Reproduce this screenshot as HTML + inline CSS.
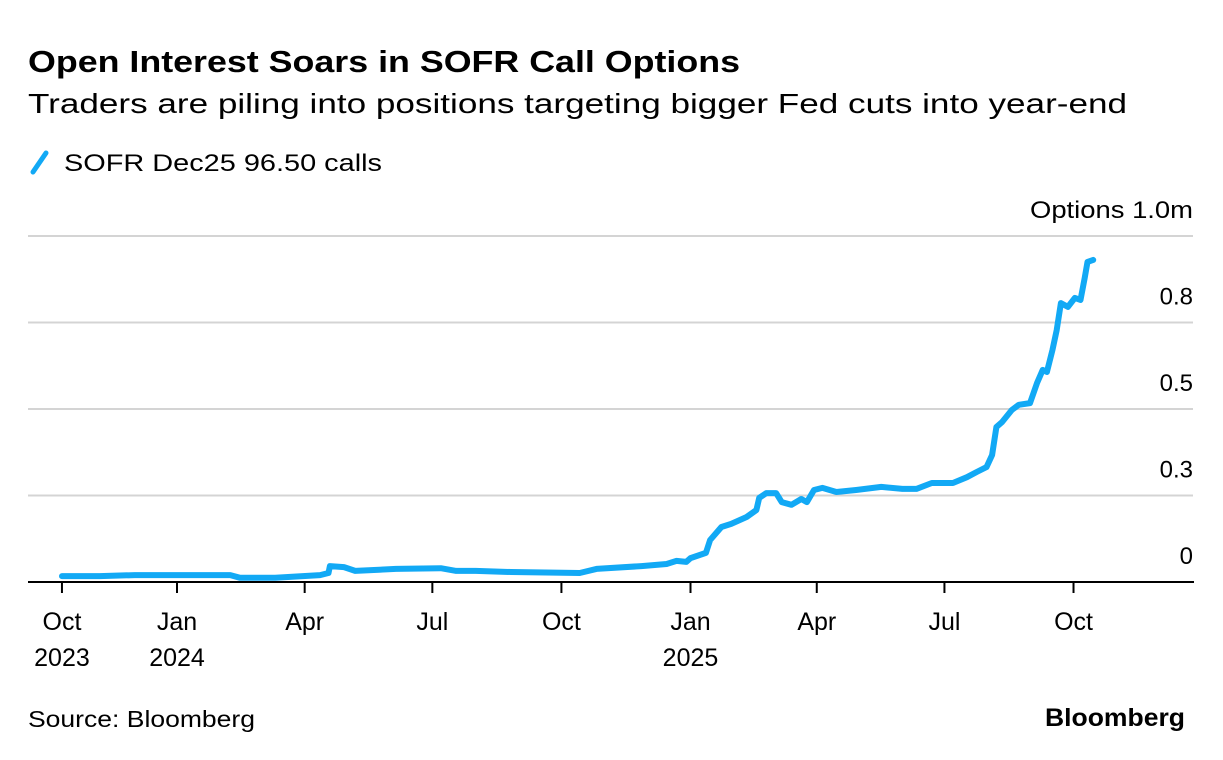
<!DOCTYPE html>
<html><head><meta charset="utf-8"><style>
body{margin:0;background:#fff;font-family:"Liberation Sans",sans-serif;}
</style></head><body>
<svg width="1223" height="760" viewBox="0 0 1223 760" style="display:block">
<text x="28" y="72" font-size="31" font-weight="bold" fill="#000" textLength="712" lengthAdjust="spacingAndGlyphs">Open Interest Soars in SOFR Call Options</text>
<text x="28" y="113" font-size="28" fill="#000" textLength="1099" lengthAdjust="spacingAndGlyphs">Traders are piling into positions targeting bigger Fed cuts into year-end</text>
<g>
<line x1="33" y1="172" x2="46" y2="153" stroke="#12a9f5" stroke-width="5" stroke-linecap="round"/>
<text x="64" y="171" font-size="24" fill="#000" textLength="318" lengthAdjust="spacingAndGlyphs">SOFR Dec25 96.50 calls</text>
</g>
<g id="grid"></g><g id="xax"></g>
<path id="line" fill="none" stroke="#12a9f5" stroke-width="6" stroke-linejoin="round" stroke-linecap="round"/>
<text x="28" y="727" font-size="23" fill="#000" textLength="227" lengthAdjust="spacingAndGlyphs">Source: Bloomberg</text>
<text x="1045" y="726" font-size="25" font-weight="bold" fill="#000" textLength="140" lengthAdjust="spacingAndGlyphs">Bloomberg</text>
</svg>
<script>
const days=[10,37,62,130,137,162,194,200,201,211,219,248,280,291,305,330,379,391,423,441,448,455,458,469,472,480,487,498,505,507,512,519,523,530,537,541,546,552,562,576,594,609,619,630,645,655,662,669,673,676,680,687,692,700,705,709,712,716,719,722,727,732,736,739,741,745];
const values=[.017,.017,.020,.020,.012,.012,.020,.026,.046,.043,.032,.038,.040,.032,.032,.029,.026,.038,.046,.052,.061,.058,.069,.084,.121,.159,.168,.188,.208,.243,.257,.257,.231,.223,.240,.231,.266,.272,.260,.266,.275,.269,.269,.286,.286,.303,.318,.332,.367,.448,.462,.497,.512,.517,.575,.613,.607,.671,.728,.806,.795,.821,.815,.879,.925,.931];
const yTicks=[0,0.25,0.5,0.75,1.0];
const yLabels=["0","0.3","0.5","0.8","Options 1.0m"];
const xTickDays=[10,92,183,274,366,458,548,639,731];
const xLab1=["Oct","Jan","Apr","Jul","Oct","Jan","Apr","Jul","Oct"];
const xLab2=["2023","2024","","","","2025","","",""];
const X=d=>177+(d-92)*1.403, Y=v=>582-v*346;
const NS="http://www.w3.org/2000/svg";
const g=document.getElementById('grid'), xa=document.getElementById('xax');
yTicks.forEach((t,i)=>{
 if(i>0){const l=document.createElementNS(NS,'line');
 l.setAttribute('x1',28);l.setAttribute('x2',1193);l.setAttribute('y1',Y(t));l.setAttribute('y2',Y(t));
 l.setAttribute('stroke','#d4d4d4');l.setAttribute('stroke-width',2);
 
 
 g.appendChild(l);}
 const tx=document.createElementNS(NS,'text');
 tx.setAttribute('x',1193);tx.setAttribute('y',Y(t)-18);tx.setAttribute('text-anchor','end');tx.setAttribute('font-size',24);
 if(i===4){tx.setAttribute('textLength',163);tx.setAttribute('lengthAdjust','spacingAndGlyphs');}
 tx.textContent=yLabels[i];
 
 
 g.appendChild(tx);
});
const ax=document.createElementNS(NS,'line');
ax.setAttribute('x1',28);ax.setAttribute('x2',1194);ax.setAttribute('y1',582);ax.setAttribute('y2',582);ax.setAttribute('stroke','#000');ax.setAttribute('stroke-width',2);


xa.appendChild(ax);
xTickDays.forEach((d,i)=>{
 const l=document.createElementNS(NS,'line');
 l.setAttribute('x1',X(d));l.setAttribute('x2',X(d));l.setAttribute('y1',582);l.setAttribute('y2',593);l.setAttribute('stroke','#000');l.setAttribute('stroke-width',2);
 
 
 xa.appendChild(l);
 [xLab1[i],xLab2[i]].forEach((s,j)=>{ if(!s)return;
  const t=document.createElementNS(NS,'text');
  t.setAttribute('x',X(d));t.setAttribute('y',630+j*36);t.setAttribute('text-anchor','middle');t.setAttribute('font-size',25);
  t.textContent=s;
  
  
  xa.appendChild(t);});
});
document.getElementById('line').setAttribute('d',days.map((d,i)=>(i?'L':'M')+X(d).toFixed(1)+','+Y(values[i]).toFixed(1)).join(''));
</script>
</body></html>
